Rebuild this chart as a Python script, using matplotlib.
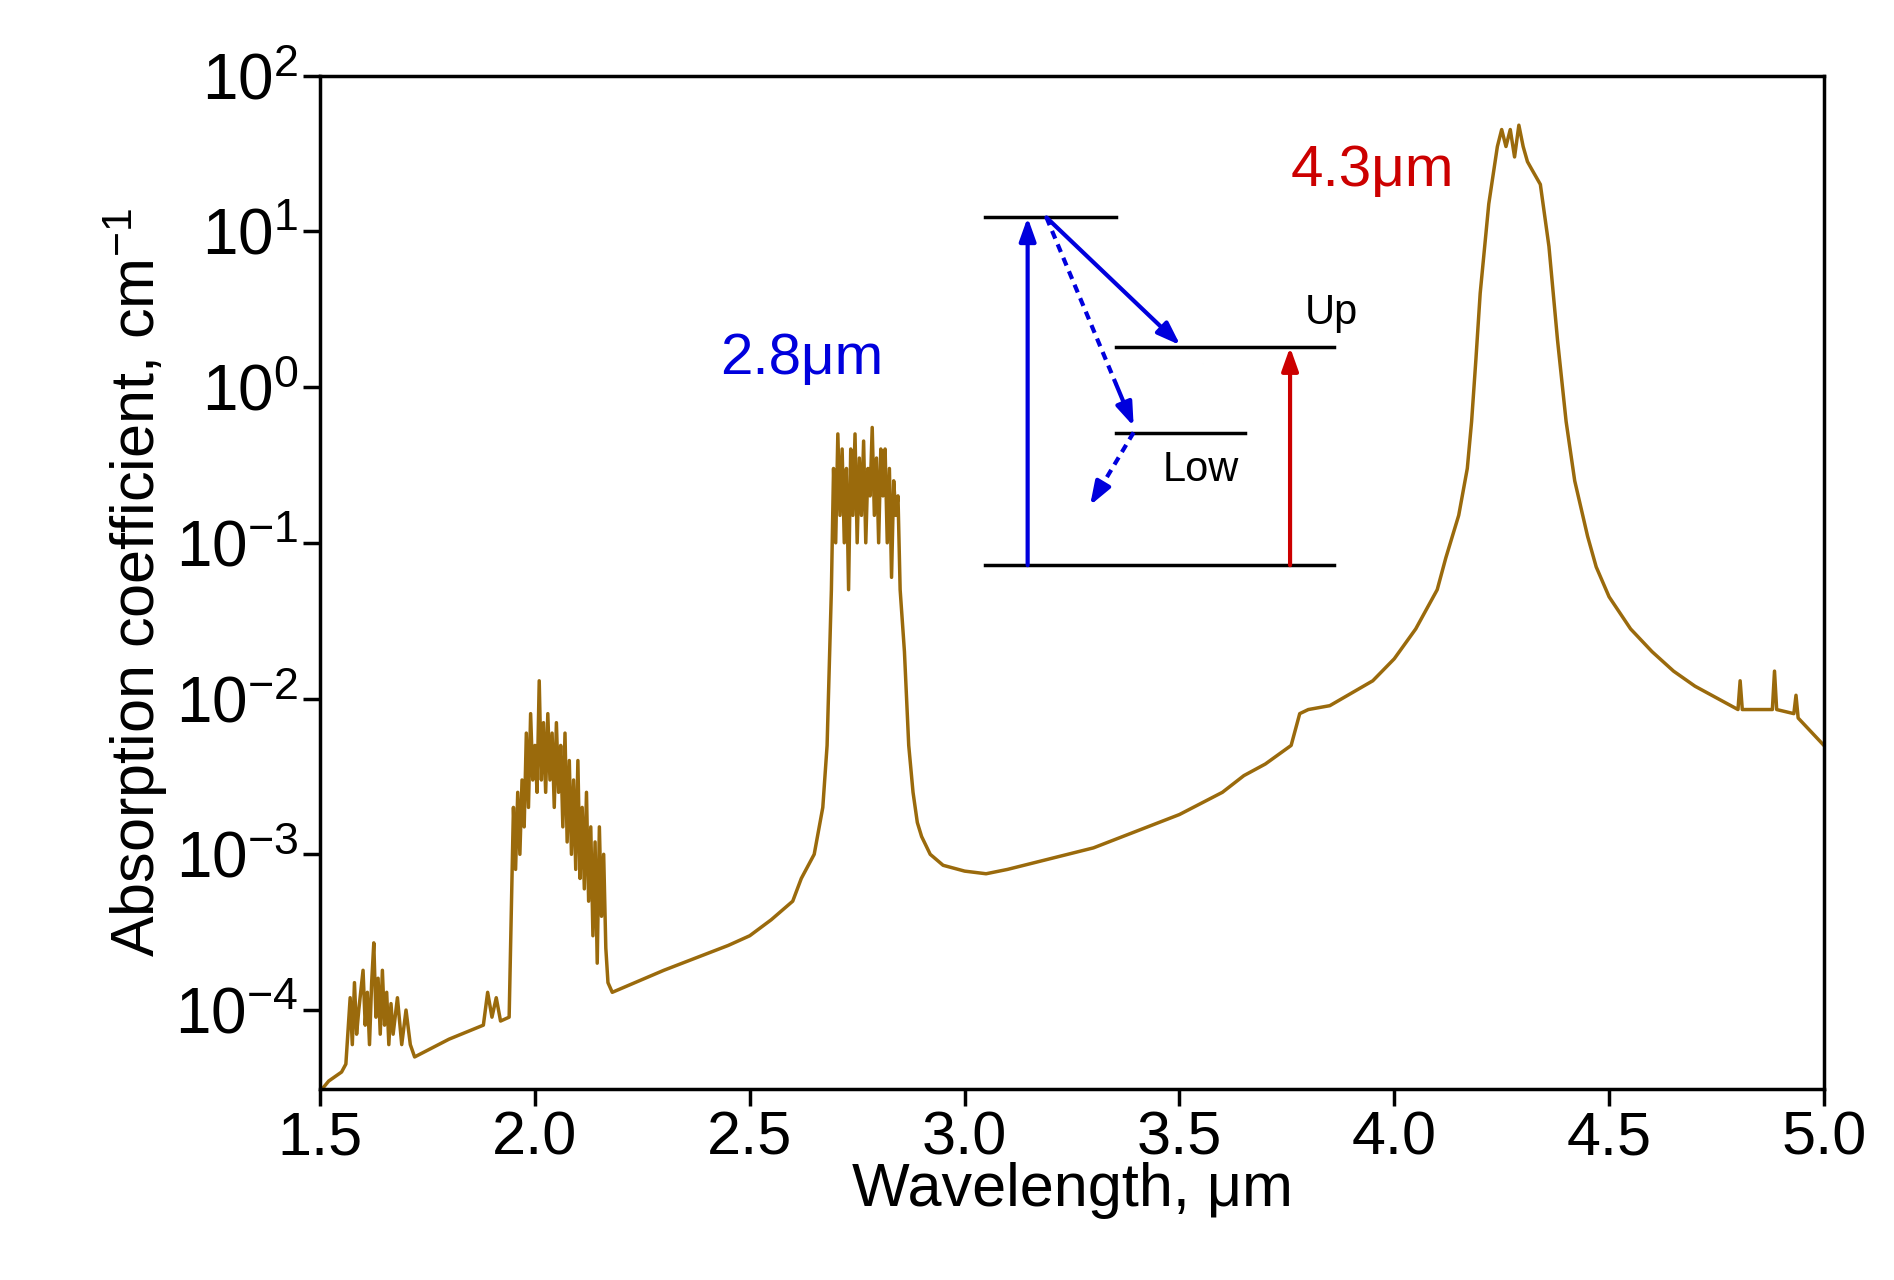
import matplotlib
matplotlib.use("Agg")
import matplotlib.pyplot as plt
from matplotlib.ticker import FixedLocator

plt.rcParams['font.family'] = ['Liberation Sans', 'DejaVu Sans']
plt.rcParams['mathtext.fontset'] = 'custom'
plt.rcParams['mathtext.rm'] = 'Liberation Sans'
plt.rcParams['mathtext.it'] = 'Liberation Sans'
plt.rcParams['mathtext.default'] = 'regular'

wl_a = [1.50,1.52,1.55,1.56,1.57,1.575,1.58,1.585,1.59,1.60,1.605,1.61,1.615,1.62,1.625,1.63,1.635,1.64,1.645,1.65,1.655,1.66,1.665,1.67,1.68,1.69,1.70,1.71,1.72,1.80,1.88,1.89,1.90,1.91,1.92,1.94]
ab_a = [3e-5,3.5e-5,4e-5,4.5e-5,1.2e-4,6e-5,1.5e-4,7e-5,1.0e-4,1.8e-4,8e-5,1.3e-4,6e-5,1.5e-4,2.7e-4,9e-5,1.6e-4,7e-5,1.8e-4,8e-5,1.3e-4,6e-5,1.1e-4,7e-5,1.2e-4,6e-5,1.0e-4,6e-5,5e-5,6.5e-5,8e-5,1.3e-4,9e-5,1.2e-4,8.5e-5,9e-5]
wl_b = [1.95,1.955,1.96,1.965,1.97,1.975,1.98,1.985,1.99,1.995,2.00,2.005,2.01,2.015,2.02,2.025,2.03,2.035,2.04,2.045,2.05,2.055,2.06,2.065,2.07,2.075,2.08,2.085,2.09,2.095,2.10,2.105,2.11,2.115,2.12,2.125,2.13,2.135,2.14,2.145,2.15,2.155,2.16,2.165,2.17,2.18]
ab_b = [2e-3,8e-4,2.5e-3,1e-3,3e-3,1.5e-3,6e-3,2e-3,8e-3,3e-3,5e-3,2.5e-3,1.3e-2,3e-3,7e-3,2.5e-3,8e-3,3e-3,6e-3,2e-3,7e-3,2.5e-3,5e-3,1.5e-3,6e-3,1.2e-3,4e-3,1e-3,3e-3,8e-4,4e-3,7e-4,2e-3,6e-4,2.5e-3,5e-4,1.5e-3,3e-4,1.2e-3,2e-4,1.5e-3,4e-4,1e-3,2.5e-4,1.5e-4,1.3e-4]
wl_c = [2.30,2.45,2.50,2.55,2.60,2.62,2.65,2.67,2.68]
ab_c = [1.8e-4,2.6e-4,3e-4,3.8e-4,5e-4,7e-4,1e-3,2e-3,5e-3]
wl_d = [2.69,2.695,2.70,2.705,2.71,2.715,2.72,2.725,2.73,2.735,2.74,2.745,2.75,2.755,2.76,2.765,2.77,2.775,2.78,2.785,2.79,2.795,2.80,2.805,2.81,2.815,2.82,2.825,2.83,2.835,2.84,2.845,2.85]
ab_d = [5e-2,0.3,0.1,0.5,0.15,0.4,0.1,0.3,0.05,0.4,0.15,0.5,0.1,0.35,0.15,0.45,0.1,0.3,0.2,0.55,0.15,0.35,0.1,0.4,0.2,0.4,0.1,0.3,0.06,0.25,0.15,0.2,0.05]
wl_e = [2.86,2.87,2.88,2.89,2.90,2.92,2.95,3.00,3.05,3.10,3.30,3.50,3.60,3.65,3.70,3.76,3.78,3.80,3.85,3.95,4.00,4.05,4.10,4.12,4.15,4.17,4.18,4.19]
ab_e = [0.02,0.005,2.5e-3,1.6e-3,1.3e-3,1e-3,8.5e-4,7.8e-4,7.5e-4,8e-4,1.1e-3,1.8e-3,2.5e-3,3.2e-3,3.8e-3,5e-3,8e-3,8.5e-3,9e-3,1.3e-2,1.8e-2,2.8e-2,5e-2,0.08,0.15,0.3,0.6,1.5]
wl_f = [4.20,4.22,4.24,4.25,4.26,4.27,4.28,4.29,4.30,4.31,4.32,4.34,4.36,4.38,4.40,4.42,4.45,4.47,4.50,4.55,4.60,4.65,4.70,4.80]
ab_f = [4,15,35,45,35,45,30,48,35,28,25,20,8,2,0.6,0.25,0.11,0.07,0.045,0.028,0.02,0.015,0.012,0.0085]
wl_g = [4.805,4.81,4.815,4.88,4.885,4.89,4.93,4.935,4.94,5.00]
ab_g = [0.013,0.0085,0.0085,0.0085,0.015,0.0085,0.008,0.0105,0.0075,0.005]

wavelength = wl_a + wl_b + wl_c + wl_d + wl_e + wl_f + wl_g
absorption = ab_a + ab_b + ab_c + ab_d + ab_e + ab_f + ab_g

fig = plt.figure(figsize=(18.94, 12.8), dpi=100)
ax = fig.add_axes([0.169, 0.149, 0.794, 0.792])
ax.plot(wavelength, absorption, color="#9a6a0c", lw=2.5)
ax.set_yscale("log")
ax.set_xlim(1.5, 5.0)
ax.set_ylim(3.1e-5, 100)
ax.xaxis.set_major_locator(FixedLocator([1.5,2.0,2.5,3.0,3.5,4.0,4.5,5.0]))
ax.set_xticklabels(["1.5","2.0","2.5","3.0","3.5","4.0","4.5","5.0"])
ax.yaxis.set_major_locator(FixedLocator([1e-4,1e-3,1e-2,1e-1,1,10,100]))
ax.yaxis.set_minor_locator(FixedLocator([]))
ax.set_yticklabels(["$10^{-4}$","$10^{-3}$","$10^{-2}$","$10^{-1}$","$10^{0}$","$10^{1}$","$10^{2}$"])
ax.tick_params(axis="x", labelsize=44, width=2.5, length=12, direction="out")
ax.tick_params(axis="y", labelsize=46, width=2.5, length=12, direction="out")
for s in ax.spines.values():
    s.set_linewidth(2.5)
ax.set_xlabel("Wavelength, μm", fontsize=44, labelpad=-4)
ax.set_ylabel("Absorption coefficient, cm$^{-1}$", fontsize=44, labelpad=4)

T = ax.transAxes
def hl(x0, x1, y):
    ax.plot([x0, x1], [y, y], color="black", lw=2.5, transform=T)
hl(0.442, 0.529, 0.860)
hl(0.529, 0.674, 0.732)
hl(0.529, 0.615, 0.647)
hl(0.442, 0.674, 0.517)
def arr(x0, y0, x1, y1, c):
    ax.annotate("", xy=(x1, y1), xytext=(x0, y0), xycoords=T, textcoords=T,
                arrowprops=dict(arrowstyle="-|>,head_length=1.4,head_width=0.5", color=c, lw=3, shrinkA=0, shrinkB=0))
def darr(x0, y0, x1, y1, c):
    f = 0.8
    xm, ym = x0 + f * (x1 - x0), y0 + f * (y1 - y0)
    ax.plot([x0, xm], [y0, ym], color=c, lw=3, ls=(0, (2, 1.5)), transform=T)
    arr(xm, ym, x1, y1, c)
arr(0.4705, 0.517, 0.4705, 0.860, "#0000dd")
arr(0.645, 0.517, 0.645, 0.732, "#cc0000")
arr(0.483, 0.860, 0.572, 0.734, "#0000dd")
darr(0.483, 0.860, 0.541, 0.654, "#0000dd")
darr(0.541, 0.648, 0.512, 0.576, "#0000dd")
ax.text(0.655, 0.755, "Up", fontsize=30, transform=T)
ax.text(0.560, 0.600, "Low", fontsize=30, transform=T)
ax.text(0.320, 0.720, "2.8μm", fontsize=42, color="#0000dd", transform=T, ha="center", va="center")
ax.text(0.700, 0.906, "4.3μm", fontsize=42, color="#cc0000", transform=T, ha="center", va="center")
fig.savefig("out.png", dpi=100)
